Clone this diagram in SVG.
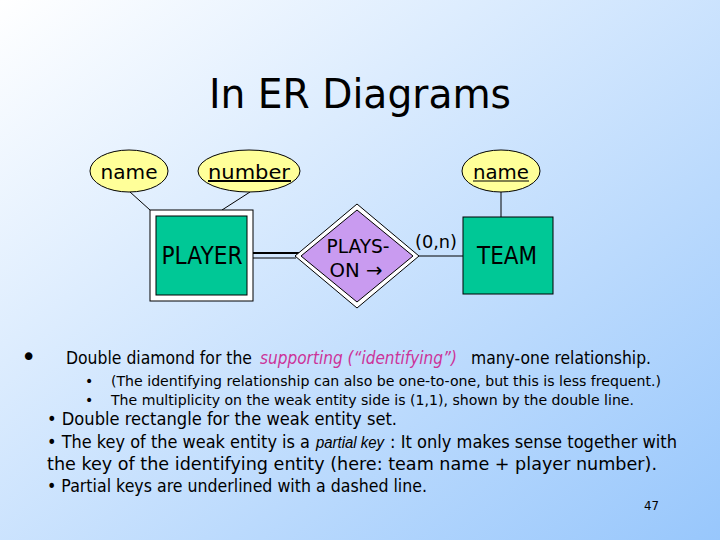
<svg xmlns="http://www.w3.org/2000/svg" width="720" height="540" viewBox="0 0 720 540">
<defs>
<linearGradient id="bg" x1="0" y1="0" x2="1" y2="1">
<stop offset="0" stop-color="#ffffff"/>
<stop offset="1" stop-color="#98c7fc"/>
</linearGradient>
<style>
text{font-family:"DejaVu Sans","Liberation Sans",sans-serif;fill:#000}
.attr{fill:#ffff99;stroke:#000;stroke-width:1}
.ent{fill:#00c896;stroke:#000;stroke-width:1}
.outer{fill:#ffffff;stroke:#000;stroke-width:1}
.rel{fill:#c99bf0;stroke:#000;stroke-width:1}
.conn{stroke:#000;stroke-width:1;fill:none}
.lbl{font-size:20px;text-anchor:middle}
.big{font-size:24px;text-anchor:middle}
.b1{font-size:17px}
.b2{font-size:14px}
.ul{stroke:#000;stroke-width:2}
</style>
</defs>
<rect x="0" y="0" width="720" height="540" fill="url(#bg)"/>
<text x="360" y="108" font-size="41" text-anchor="middle" textLength="302" lengthAdjust="spacingAndGlyphs">In ER Diagrams</text>

<g id="connectors">
<line class="conn" x1="130" y1="192" x2="150" y2="210"/>
<line class="conn" x1="250" y1="192" x2="222" y2="210"/>
<line class="conn" x1="501" y1="192" x2="501" y2="217"/>
<line stroke="#000" stroke-width="2.2" x1="253" y1="253" x2="300" y2="253"/>
<line stroke="#000" stroke-width="1.2" x1="253" y1="258" x2="296" y2="258"/>
<line class="conn" x1="419" y1="256" x2="463" y2="256"/>
<text x="436" y="248" font-size="18" text-anchor="middle" textLength="42" lengthAdjust="spacingAndGlyphs">(0,n)</text>
</g>

<g id="attr-name-player">
<ellipse class="attr" cx="129" cy="171" rx="39" ry="21"/>
<text class="lbl" x="129" y="179" textLength="57" lengthAdjust="spacingAndGlyphs">name</text>
</g>
<g id="attr-number">
<ellipse class="attr" cx="249" cy="171" rx="51" ry="21"/>
<text class="lbl" x="249" y="179" textLength="82" lengthAdjust="spacingAndGlyphs">number</text>
<line class="ul" x1="208" y1="181" x2="291" y2="181"/>
</g>
<g id="attr-name-team">
<ellipse class="attr" cx="501" cy="171" rx="39" ry="21"/>
<text class="lbl" x="501" y="179" textLength="56" lengthAdjust="spacingAndGlyphs">name</text>
<line class="conn" x1="473" y1="181" x2="529" y2="181"/>
</g>

<g id="player">
<rect class="outer" x="150" y="210" width="103" height="91"/>
<rect class="ent" x="156" y="216" width="91" height="79"/>
<text class="big" x="202" y="264" textLength="81" lengthAdjust="spacingAndGlyphs">PLAYER</text>
</g>

<g id="plays-on">
<polygon class="outer" points="295,256 357,204 419,256 357,308"/>
<polygon class="rel" points="301,256 357,210 413,256 357,302"/>
<text class="lbl" x="358" y="253" textLength="63" lengthAdjust="spacingAndGlyphs">PLAYS-</text>
<text class="lbl" x="356" y="277" textLength="53" lengthAdjust="spacingAndGlyphs">ON →</text>
</g>

<g id="team">
<rect class="ent" x="463" y="217" width="90" height="77"/>
<text class="big" x="507" y="264" textLength="60" lengthAdjust="spacingAndGlyphs">TEAM</text>
</g>

<g id="notes">
<text x="21" y="366" font-size="26">•</text>
<text class="b1" x="66" y="364" textLength="186" lengthAdjust="spacingAndGlyphs">Double diamond for the</text>
<text class="b1" x="260" y="364" style="fill:#cc3399;font-style:italic" textLength="197" lengthAdjust="spacingAndGlyphs">supporting (“identifying”)</text>
<text class="b1" x="471" y="364" textLength="180" lengthAdjust="spacingAndGlyphs">many-one relationship.</text>
<text class="b2" x="85" y="386">•</text>
<text class="b2" x="111" y="386" textLength="550" lengthAdjust="spacingAndGlyphs">(The identifying relationship can also be one-to-one, but this is less frequent.)</text>
<text class="b2" x="85" y="405">•</text>
<text class="b2" x="111" y="405" textLength="523" lengthAdjust="spacingAndGlyphs">The multiplicity on the weak entity side is (1,1), shown by the double line.</text>
<text class="b1" x="47" y="425" textLength="350" lengthAdjust="spacingAndGlyphs">• Double rectangle for the weak entity set.</text>
<text class="b1" x="47" y="448" textLength="263" lengthAdjust="spacingAndGlyphs">• The key of the weak entity is a</text>
<text x="316" y="448" style="font-family:'Liberation Sans',Arial,sans-serif;font-size:16px;font-style:italic" textLength="68" lengthAdjust="spacingAndGlyphs">partial key</text>
<text class="b1" x="390" y="448" textLength="287" lengthAdjust="spacingAndGlyphs">: It only makes sense together with</text>
<text class="b1" x="47" y="470" textLength="610" lengthAdjust="spacingAndGlyphs">the key of the identifying entity (here: team name + player number).</text>
<text class="b1" x="47" y="492" textLength="380" lengthAdjust="spacingAndGlyphs">• Partial keys are underlined with a dashed line.</text>
<text x="644" y="510" font-size="13" textLength="15" lengthAdjust="spacingAndGlyphs">47</text>
</g>
</svg>
